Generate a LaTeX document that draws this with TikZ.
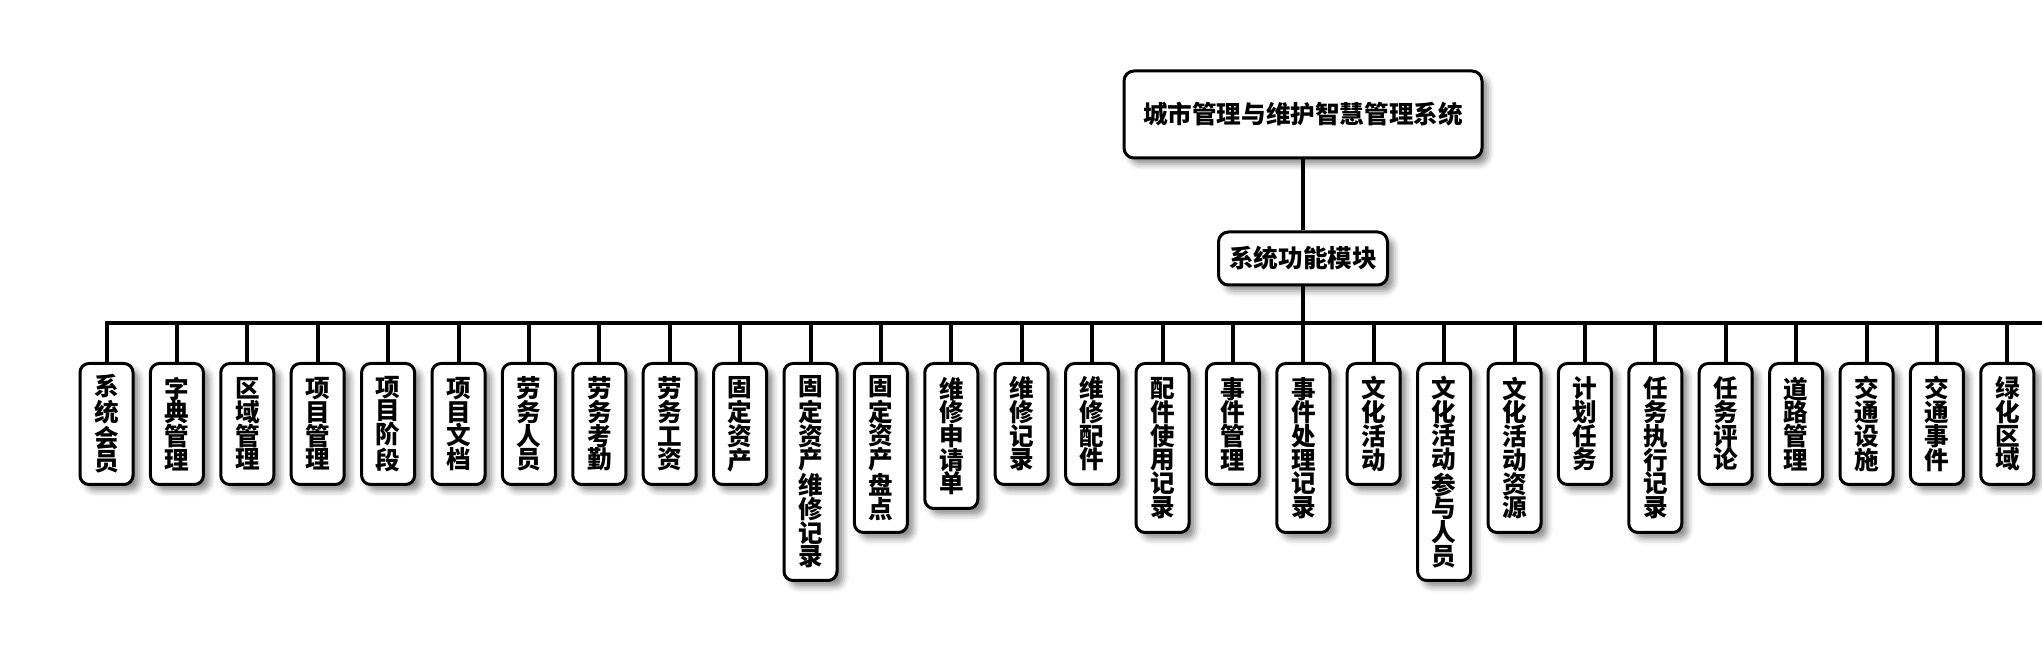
\documentclass[tikz,border=0pt]{standalone}
\usepackage{fontspec}
\newfontfamily\cjk{Noto Sans CJK SC}
\usetikzlibrary{shadows.blur}
\tikzset{
  boxbase/.style={draw=black, line width=1.5pt, fill=white, text=black,
    blur shadow={shadow xshift=3pt, shadow yshift=-3pt, shadow blur radius=3pt, shadow opacity=45}},
  rootbox/.style={boxbase, rounded corners=5pt, minimum width=179pt, minimum height=43.5pt,
    inner sep=0pt, font=\cjk\bfseries\fontsize{12.3}{14}\selectfont},
  midbox/.style={boxbase, rounded corners=5pt, minimum width=84.5pt, minimum height=26.5pt,
    inner sep=0pt, font=\cjk\bfseries\fontsize{12.3}{14}\selectfont},
  leafbox/.style={boxbase, rounded corners=4.5pt, minimum width=26.5pt, minimum height={12pt*#1+12.5pt},
    inner sep=0pt, align=center, anchor=north, font=\cjk\bfseries\fontsize{12.3}{11.85}\selectfont},
  conn/.style={draw=black, line width=2pt}
}
\begin{document}
\begin{tikzpicture}[x=0.5pt, y=-0.5pt]
\useasboundingbox (0,0) rectangle (2042,656);
\node[rootbox] (root) at (1303,114.5) {城市管理与维护智慧管理系统};
\node[midbox] (mid) at (1303,258.5) {系统功能模块};
\coordinate (busR) at (2042,323);
\foreach \t/\n [count=\i from 0] in {
  系\\统\\会\\员/4, 字\\典\\管\\理/4, 区\\域\\管\\理/4, 项\\目\\管\\理/4,
  项\\目\\阶\\段/4, 项\\目\\文\\档/4, 劳\\务\\人\\员/4, 劳\\务\\考\\勤/4,
  劳\\务\\工\\资/4, 固\\定\\资\\产/4, 固\\定\\资\\产\\维\\修\\记\\录/8,
  固\\定\\资\\产\\盘\\点/6, 维\\修\\申\\请\\单/5, 维\\修\\记\\录/4,
  维\\修\\配\\件/4, 配\\件\\使\\用\\记\\录/6, 事\\件\\管\\理/4,
  事\\件\\处\\理\\记\\录/6, 文\\化\\活\\动/4, 文\\化\\活\\动\\参\\与\\人\\员/8,
  文\\化\\活\\动\\资\\源/6, 计\\划\\任\\务/4, 任\\务\\执\\行\\记\\录/6,
  任\\务\\评\\论/4, 道\\路\\管\\理/4, 交\\通\\设\\施/4, 交\\通\\事\\件/4,
  绿\\化\\区\\域/4}
{
  \node[leafbox=\n] (n\i) at ({106.5+70.4*\i},362) {\t};
}
\draw[conn] (root.south) -- (mid.north);
\draw[conn] (mid.south) -- (mid.south |- busR);
\draw[conn] (n0.north) -- (n0.north |- busR) -- (busR);
\foreach \i in {1,...,27} {
  \draw[conn] (n\i.north) -- (n\i.north |- busR);
}
\end{tikzpicture}
\end{document}
